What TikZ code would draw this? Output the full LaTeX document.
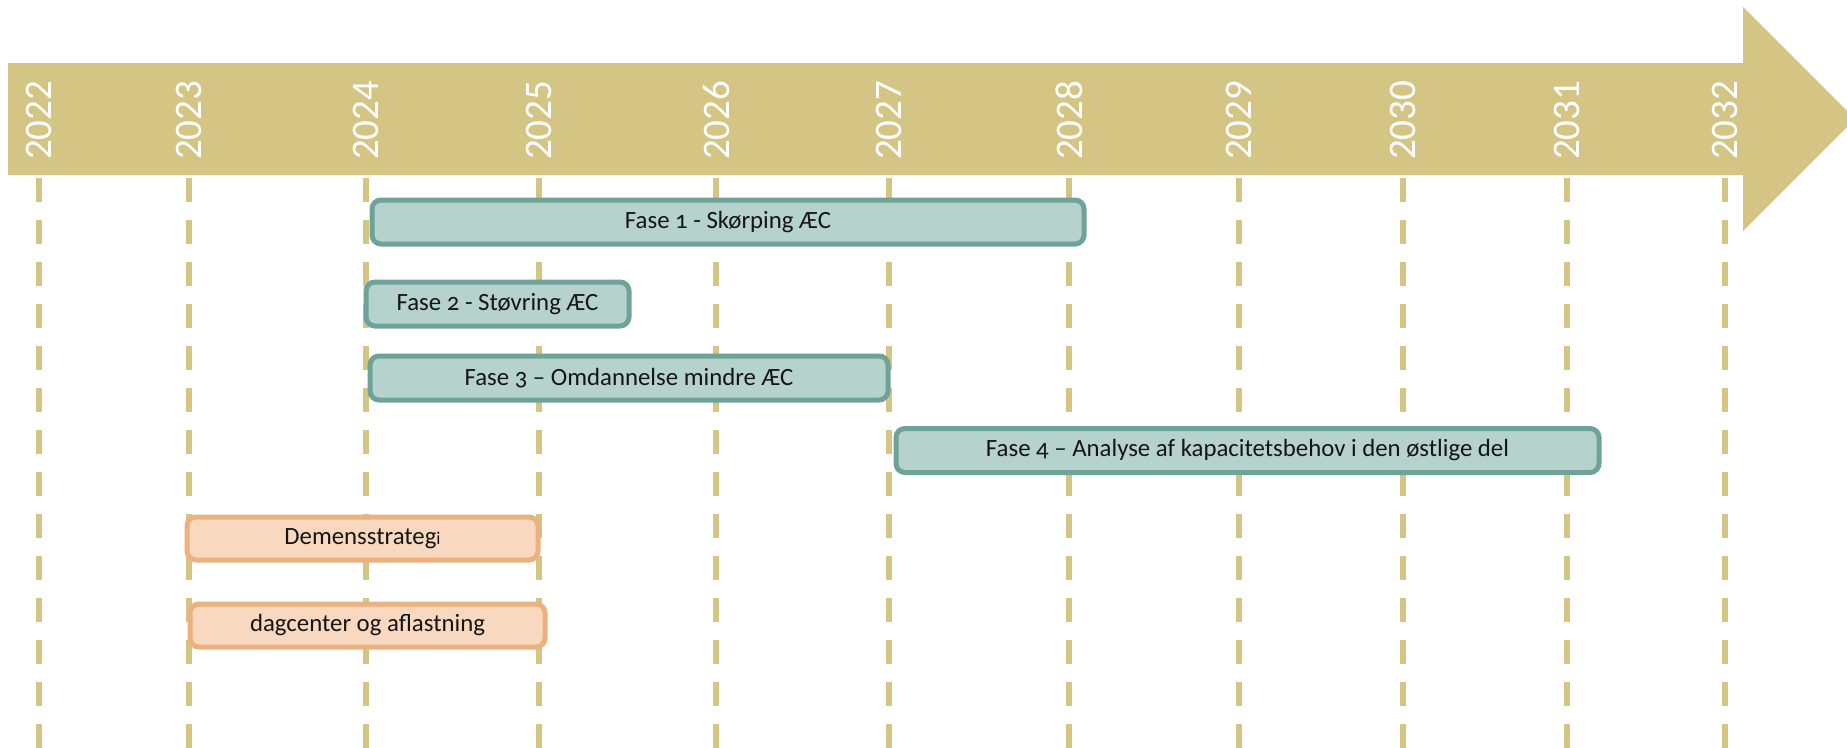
\documentclass[tikz,border=0pt]{standalone}
\usepackage{fontspec}
\setmainfont{Carlito}[Numbers=OldStyle]
\newfontfamily\yearfont{Carlito}[Numbers=Lining]
\definecolor{bandcol}{HTML}{D5C584}
\definecolor{tealfill}{HTML}{B5D2CC}
\definecolor{tealline}{HTML}{6FA39A}
\definecolor{orfill}{HTML}{F8D8BE}
\definecolor{orline}{HTML}{EDB17F}
\definecolor{txt}{HTML}{151515}
\tikzset{
  yearline/.style={draw=bandcol, line width=6pt, dash pattern=on 24pt off 18pt},
  yearlabel/.style={text=white, rotate=90, anchor=west, inner sep=0pt, font=\yearfont\fontsize{39}{39}\selectfont},
  phasebox/.style={rounded corners=9pt, line width=5pt, anchor=north west, minimum height=44pt, inner sep=0pt, text=txt, font=\fontsize{24.8}{25}\selectfont},
  tealbox/.style={phasebox, draw=tealline, fill=tealfill},
  orbox/.style={phasebox, draw=orline, fill=orfill},
}
\begin{document}
\begin{tikzpicture}[x=1pt, y=-1pt]
\clip (0,0) rectangle (1847,747);
\fill[white] (0,0) rectangle (1847,747);
% arrow band
\fill[bandcol] (8,63) -- (1743,63) -- (1743,7) -- (1855,119) -- (1743,231) -- (1743,175) -- (8,175) -- cycle;
% year lines and labels
\foreach \yr/\xx in {2022/39, 2023/189, 2024/366, 2025/539, 2026/716, 2027/889, 2028/1069, 2029/1239, 2030/1403, 2031/1567, 2032/1725}{
  \draw[yearline] (\xx,178) -- (\xx,760);
  \node[yearlabel] (y\yr) at (\xx,160) {\yr};
}
% phase boxes
\node[tealbox, minimum width=712pt] (f1) at (369.5,197.5) {Fase 1 - Skørping ÆC};
\node[tealbox, minimum width=263pt] (f2) at (363.5,279.5) {Fase 2 - Støvring ÆC};
\node[tealbox, minimum width=518pt] (f3) at (367.5,353.5) {Fase 3 – Omdannelse mindre ÆC};
\node[tealbox, minimum width=703pt] (f4) at (893.5,426) {Fase 4 – Analyse af kapacitetsbehov i den østlige del};
\node[orbox, minimum width=351pt, minimum height=43pt] (dem) at (184.5,514.5) {Demensstrateg{\fontsize{18}{18}\selectfont i}};
\node[orbox, minimum width=355pt, minimum height=43pt] (dag) at (187.5,601.5) {dagcenter og aflastning};
\end{tikzpicture}
\end{document}
